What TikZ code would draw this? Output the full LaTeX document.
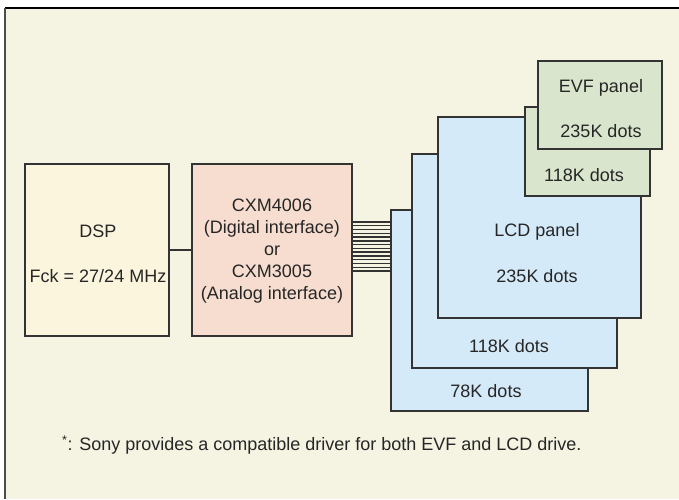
\documentclass[tikz,border=0pt]{standalone}
\usepackage{fontspec}
\setmainfont{Liberation Sans}
\usetikzlibrary{positioning}

\definecolor{pagebg}{HTML}{F5F3E2}
\definecolor{dspfill}{HTML}{FCF5DE}
\definecolor{cxmfill}{HTML}{F7DDCF}
\definecolor{lcdfill}{HTML}{D5EAF9}
\definecolor{evffill}{HTML}{D9E6CD}
\definecolor{edge}{HTML}{333333}

\tikzset{
    block/.style={draw=edge, line width=1.3pt, rectangle, inner sep=0pt},
    txt/.style={font=\fontsize{18}{22}\selectfont, text=black!85, align=center, inner sep=0pt},
}

\begin{document}
\begin{tikzpicture}[x=1pt, y=-1pt]

    \useasboundingbox (0,0) rectangle (679,499);
    \fill[pagebg] (5,8) rectangle (679,499);
    \draw[line width=2.2pt, black] (5,8) -- (679,8);
    \draw[line width=1.8pt, black!70] (5,8) -- (5,499);

    % controller side
    \node[block, fill=dspfill, minimum width=144pt, minimum height=172pt] (dsp) at (97,250) {};
    \node[txt] (dsplbl) at (98,231) {DSP};
    \node[txt] (fcklbl) at (98,276) {Fck = 27/24 MHz};

    \node[block, fill=cxmfill, minimum width=160pt, minimum height=172pt] (cxm) at (272,250) {};
    \node[txt] (cxmlbl) at (272,251) {CXM4006\\(Digital interface)\\or\\CXM3005\\(Analog interface)};

    \draw[line width=1.3pt, edge] (dsp) -- (cxm);

    % LCD panels, back to front
    \node[block, fill=lcdfill, minimum width=197pt, minimum height=201pt] (lcd78) at (489.5,310.5) {};
    \node[block, fill=lcdfill, minimum width=205pt, minimum height=214pt] (lcd118) at (514.5,261) {};
    \node[block, fill=lcdfill, minimum width=203pt, minimum height=201pt] (lcd235) at (539.5,217.5) {};
    \node[txt] (lbl78) at (486,391) {78K dots};
    \node[txt] (lbl118) at (509,346) {118K dots};
    \node[txt] (lcdlbl) at (537,232) {LCD panel};
    \node[txt] (lbl235) at (537,276) {235K dots};

    % EVF panels
    \node[block, fill=evffill, minimum width=125pt, minimum height=89pt] (evf118) at (587.5,151.5) {};
    \node[block, fill=evffill, minimum width=124pt, minimum height=88pt] (evf235) at (600,105) {};
    \node[txt] (evflbl118) at (584,175) {118K dots};
    \node[txt] (evflbl) at (601,88) {EVF panel};
    \node[txt] (evflbl235) at (601,131) {235K dots};

    % bus
    \foreach \i in {0,...,13}
        \draw[line width=1.4pt, edge] (cxm.east |- 0,{222+\i*3.77}) -- (lcd78.west |- 0,{222+\i*3.77});

    \node[txt, anchor=west] (note) at (62,445) {\textsuperscript{*}: Sony provides a compatible driver for both EVF and LCD drive.};

\end{tikzpicture}
\end{document}
